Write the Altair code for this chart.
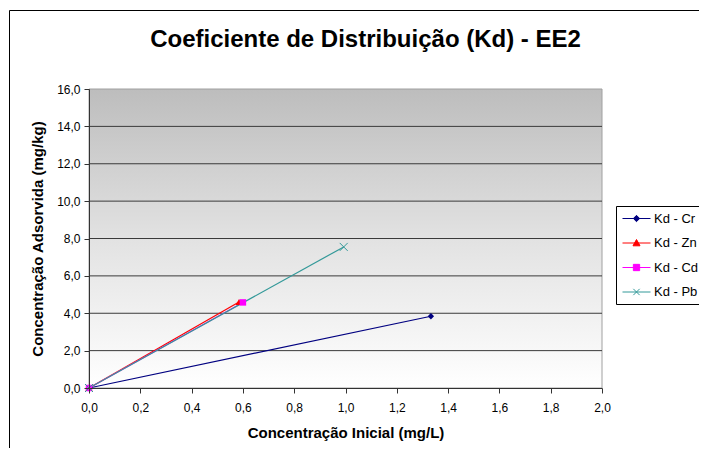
import altair as alt
import pandas as pd

series_names = ["Kd - Cr", "Kd - Zn", "Kd - Cd", "Kd - Pb"]
cr_x = [0.0, 1.333]
cr_y = [0.0, 3.84]
zn_x = [0.0, 0.585]
zn_y = [0.0, 4.60]
cd_x = [0.0, 0.600]
cd_y = [0.0, 4.58]
pb_x = [0.0, 0.993]
pb_y = [0.0, 7.55]
line_colors = ["#000080", "#ff0000", "#ff00ff", "#339999"]
x_ticks = [0.0, 0.2, 0.4, 0.6, 0.8, 1.0, 1.2, 1.4, 1.6, 1.8, 2.0]
y_ticks = [0, 2, 4, 6, 8, 10, 12, 14, 16]
x_domain = [0, 2]
y_domain = [0, 16]

FONT = "Liberation Sans"

rows = []
for name, xs, ys in zip(series_names, [cr_x, zn_x, cd_x, pb_x], [cr_y, zn_y, cd_y, pb_y]):
    for i, (xv, yv) in enumerate(zip(xs, ys)):
        rows.append({"series": name, "x": xv, "y": yv, "i": i})
df = pd.DataFrame(rows)

fmt = "replace(format(datum.value, '.1f'), '.', ',')"

x_enc = alt.X("x:Q", scale=alt.Scale(domain=x_domain, nice=False),
              axis=alt.Axis(values=x_ticks, labelExpr=fmt, title="Concentração Inicial (mg/L)",
                            grid=False, zindex=1, titlePadding=12, labelPadding=9,
                            labelFlush=False))
y_enc = alt.Y("y:Q", scale=alt.Scale(domain=y_domain, nice=False),
              axis=alt.Axis(values=y_ticks, labelExpr=fmt, title="Concentração Adsorvida (mg/kg)",
                            grid=False, zindex=1, titlePadding=11, labelPadding=4,
                            labelFlush=False))

# plot-area background (gradient)
bg_df = pd.DataFrame({"x": [x_domain[0]], "x2": [x_domain[1]], "y": [y_domain[0]], "y2": [y_domain[1]]})
bg = alt.Chart(bg_df).mark_rect(
    fill=alt.Gradient(gradient="linear",
                      stops=[alt.GradientStop(color="#bdbdbd", offset=0),
                             alt.GradientStop(color="#e2e2e2", offset=0.5),
                             alt.GradientStop(color="#ffffff", offset=1)],
                      x1=0, x2=0, y1=0, y2=1),
    stroke="#a0a0a0", strokeWidth=1
).encode(x=x_enc, x2="x2:Q", y=y_enc, y2="y2:Q")

grid_df = pd.DataFrame({"y": y_ticks[1:-1]})
grid = alt.Chart(grid_df).mark_rule(color="#3a3a3a", strokeWidth=1).encode(y=y_enc)

line_layers = []
for name, col in zip(series_names, line_colors):
    line_layers.append(
        alt.Chart(df).mark_line(strokeWidth=1.2, color=col)
        .encode(x=x_enc, y=y_enc, order=alt.Order("i:Q"))
        .transform_filter(alt.datum.series == name)
    )

marker_specs = [
    ("diamond", 40, True),
    ("triangle-up", 50, True),
    ("square", 42, True),
    ("M-1,-1L1,1M-1,1L1,-1", 64, False),
]
marker_layers = []
for name, col, (shape, size, filled) in zip(series_names, line_colors, marker_specs):
    marker_layers.append(
        alt.Chart(df).mark_point(shape=shape, size=size, filled=filled, color=col, opacity=1, strokeWidth=1)
        .encode(x=x_enc, y=y_enc)
        .transform_filter(alt.datum.series == name)
    )

legend_paths = [
    "M-2,0H2M0,-0.45L0.45,0L0,0.45L-0.45,0Z",
    "M-2,0H2M0,-0.5L0.5,0.4L-0.5,0.4Z",
    "M-2,0H2M-0.45,-0.45H0.45V0.45H-0.45Z",
    "M-2,0H2M-0.45,-0.45L0.45,0.45M-0.45,0.45L0.45,-0.45",
]

def leg():
    return alt.Legend(title=None, orient="none", legendX=527, legendY=117,
                      symbolSize=196, symbolStrokeWidth=1, symbolOpacity=1,
                      labelFont=FONT, labelFontSize=13, labelColor="#000000",
                      labelOffset=10, symbolOffset=8, padding=5, rowPadding=9.5,
                      strokeColor="#000000", fillColor="#ffffff")

# legend-only layer: data filtered out, legend entries come from the explicit domain
legend_layer = alt.Chart(df).mark_point(size=196, strokeWidth=1).encode(
    x=x_enc, y=y_enc,
    fill=alt.Fill("series:N", scale=alt.Scale(domain=series_names, range=line_colors), legend=leg()),
    stroke=alt.Stroke("series:N", scale=alt.Scale(domain=series_names, range=line_colors), legend=leg()),
    shape=alt.Shape("series:N", scale=alt.Scale(domain=series_names, range=legend_paths), legend=leg()),
).transform_filter("datum.i < 0")

one = pd.DataFrame({"k": [0]})
border_left = alt.Chart(one).mark_rule(color="#000000", strokeWidth=1).encode(
    x=alt.value(-79.5), y=alt.value(-78.5), y2=alt.value(380))
border_top = alt.Chart(one).mark_rule(color="#000000", strokeWidth=1).encode(
    x=alt.value(-79.5), x2=alt.value(640), y=alt.value(-78.5))

chart = alt.layer(
    bg, grid, *line_layers, *marker_layers, legend_layer, border_left, border_top
).properties(
    width=513, height=299,
    padding={"left": 81, "top": 81, "right": 97, "bottom": 60},
    autosize=alt.AutoSizeParams(type="none"),
    title=alt.TitleParams(text="Coeficiente de Distribuição (Kd) - EE2", fontSize=24,
                          fontWeight="bold", font=FONT, anchor="middle", dx=20, offset=-61,
                          baseline="alphabetic", color="#000000"),
).configure_view(stroke=None).configure_axis(
    labelFont=FONT, labelFontSize=12, labelColor="#000000",
    titleFont=FONT, titleFontSize=15, titleFontWeight="bold", titleColor="#000000",
    domainColor="#333333", tickColor="#333333", tickSize=5,
)

chart.save("out.html", embed_options={"renderer": "svg", "actions": False})
